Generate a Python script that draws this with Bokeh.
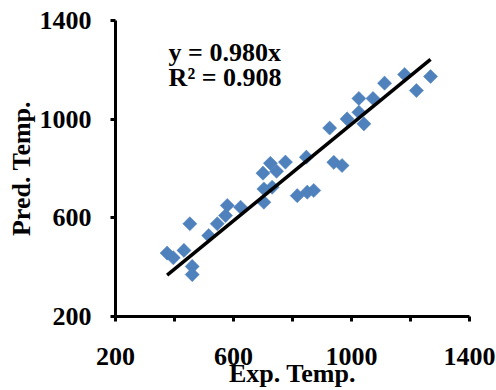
from bokeh.plotting import figure
from bokeh.models import Range1d, FixedTicker, Label, ColumnDataSource
from bokeh.embed import file_html
from bokeh.resources import INLINE
import math

exp_temp = [375, 396, 432, 452, 460, 460, 516, 545, 573, 579, 624,
            700, 703, 703, 725, 731, 746, 776, 816, 847, 850, 872,
            926, 940, 968, 985, 1025, 1025, 1042, 1073, 1112, 1180, 1220, 1268]
pred_temp = [457, 438, 468, 576, 403, 370, 528, 576, 609, 650, 643,
             781, 717, 663, 821, 724, 789, 826, 690, 846, 704, 711,
             964, 825, 812, 1001, 1028, 1084, 981, 1084, 1146, 1181, 1116, 1173]
slope = 0.980
r2 = 0.908
axis_ticks = [200, 600, 1000, 1400]
x_minor_ticks = [400, 800, 1200]

FONT = "Liberation Serif"
BLUE = "#4F81BD"

p = figure(width=496, height=390, output_backend="svg", toolbar_location=None,
           x_range=Range1d(200, 1400), y_range=Range1d(200, 1400),
           min_border_left=115, min_border_right=27, min_border_top=20, min_border_bottom=74)
p.outline_line_color = None
p.grid.visible = False
p.background_fill_color = "white"
p.border_fill_color = "white"

src = ColumnDataSource(dict(x=exp_temp, y=pred_temp))
p.scatter("x", "y", source=src, marker="square", size=10, angle=math.pi / 4,
          fill_color=BLUE, line_color=BLUE, line_width=0.5)

x0, x1 = min(exp_temp), max(exp_temp)
p.line([x0, x1], [slope * x0, slope * x1], line_color="black", line_width=3.5)

p.add_layout(Label(x=380, y=1270, text="y = %.3fx" % slope, text_font=FONT,
                   text_font_size="26px", text_font_style="bold",
                   text_baseline="alphabetic", text_color="black"))
p.add_layout(Label(x=380, y=1169, text="R² = %.3f" % r2, text_font=FONT,
                   text_font_size="26px", text_font_style="bold",
                   text_baseline="alphabetic", text_color="black"))

p.axis.axis_line_width = 3
p.axis.axis_line_color = "black"
p.axis.major_tick_line_width = 3
p.axis.minor_tick_line_width = 3
p.axis.major_tick_in = 0
p.axis.major_tick_out = 5
p.axis.minor_tick_in = 0
p.axis.minor_tick_out = 5
p.axis.major_label_text_font = FONT
p.axis.major_label_text_font_size = "26px"
p.axis.major_label_text_font_style = "bold"
p.axis.major_label_text_color = "black"
p.axis.axis_label_text_font = FONT
p.axis.axis_label_text_font_size = "26px"
p.axis.axis_label_text_font_style = "bold"
p.axis.axis_label_text_color = "black"

p.xaxis.ticker = FixedTicker(ticks=axis_ticks, minor_ticks=x_minor_ticks)
p.yaxis.ticker = FixedTicker(ticks=axis_ticks, minor_ticks=[])
p.xaxis.axis_label = "Exp. Temp."
p.yaxis.axis_label = "Pred. Temp."
p.xaxis.major_label_standoff = 26
p.xaxis.axis_label_standoff = -9
p.yaxis.major_label_standoff = 19
p.yaxis.axis_label_standoff = 1

open("out.html", "w").write(file_html(p, INLINE))
